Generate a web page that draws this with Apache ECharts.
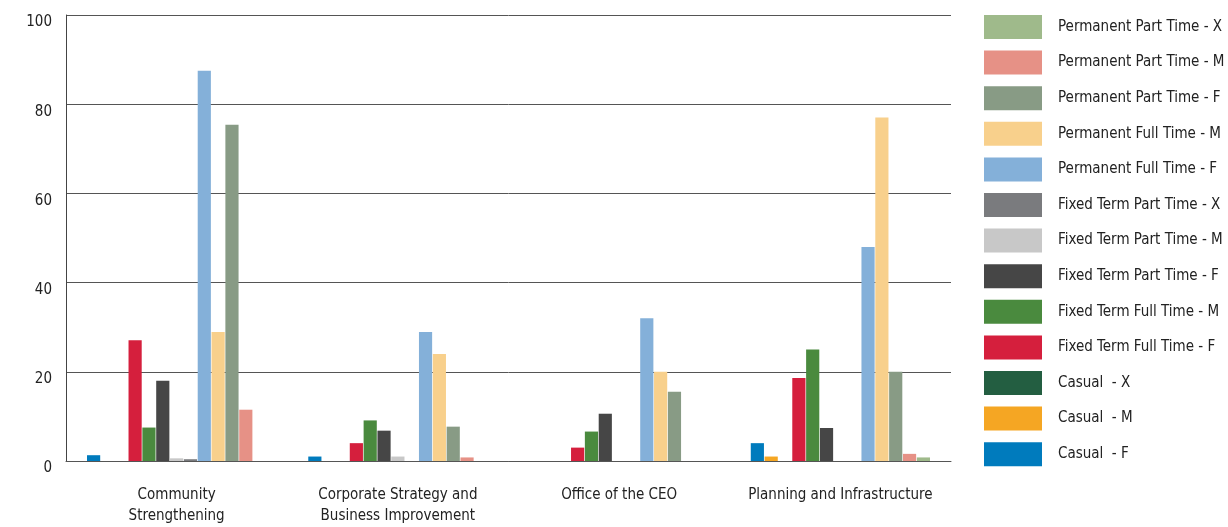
<!DOCTYPE html>
<html>
<head>
<meta charset="utf-8">
<script src="https://cdn.jsdelivr.net/npm/echarts@6/dist/echarts.min.js"></script>
<style>
html,body{margin:0;padding:0;background:#fff;}
#chart{width:1228px;height:527px;}
</style>
</head>
<body>
<div id="chart"></div>
<script>
const categories = ['Community\nStrengthening', 'Corporate Strategy and\nBusiness Improvement', 'Office of the CEO', 'Planning and Infrastructure'];
const seriesNames = [
  'Casual  - F', 'Casual  - M', 'Casual  - X',
  'Fixed Term Full Time - F', 'Fixed Term Full Time - M',
  'Fixed Term Part Time - F', 'Fixed Term Part Time - M', 'Fixed Term Part Time - X',
  'Permanent Full Time - F', 'Permanent Full Time - M',
  'Permanent Part Time - F', 'Permanent Part Time - M', 'Permanent Part Time - X'
];
const casualF = [1.3, 1.0, 0, 4.0];
const casualM = [0, 0, 0, 1.0];
const casualX = [0, 0, 0, 0];
const fixedFullF = [27.1, 4.0, 3.0, 18.6];
const fixedFullM = [7.5, 9.1, 6.6, 25.0];
const fixedPartF = [18.0, 6.8, 10.6, 7.4];
const fixedPartM = [0.6, 1.0, 0, 0];
const fixedPartX = [0.4, 0, 0, 0];
const permFullF = [87.5, 28.9, 32.0, 48.0];
const permFullM = [28.9, 24.0, 20.0, 77.0];
const permPartF = [75.4, 7.7, 15.5, 20.0];
const permPartM = [11.5, 0.8, 0, 1.6];
const permPartX = [0, 0, 0, 0.8];
const yTicks = [0, 20, 40, 60, 80, 100];

const seriesData = [casualF, casualM, casualX, fixedFullF, fixedFullM, fixedPartF, fixedPartM, fixedPartX, permFullF, permFullM, permPartF, permPartM, permPartX];
const colors = ['#007bbd', '#f5a623', '#235e41', '#d51f3d', '#4a8a3e', '#464646', '#c8c8c8', '#7a7b7e', '#84b0d9', '#f8d08c', '#889b85', '#e69186', '#9fba8b'];

const FONT = '"Liberation Sans Narrow", "DejaVu Sans Condensed", "Liberation Sans", sans-serif';

const chart = echarts.init(document.getElementById('chart'), null, {renderer: 'canvas'});
chart.setOption({
  animation: false,
  color: colors,
  textStyle: {fontFamily: FONT},
  grid: {left: 66, right: 277, top: 15, bottom: 63, containLabel: false},
  legend: {
    orient: 'vertical',
    left: 984,
    top: 15,
    padding: 0,
    itemWidth: 58,
    itemHeight: 24,
    itemGap: 11.6,
    icon: 'rect',
    data: seriesNames.slice().reverse(),
    textStyle: {fontFamily: FONT, fontSize: 15, color: '#222', padding: [0, 0, 0, 11]}
  },
  xAxis: {
    type: 'category',
    data: categories,
    axisLine: {show: true, lineStyle: {color: '#555', width: 1}},
    axisTick: {show: false},
    axisLabel: {fontFamily: FONT, fontSize: 15, color: '#222', margin: 24, lineHeight: 21, verticalAlign: 'top', interval: 0}
  },
  yAxis: {
    type: 'value',
    min: yTicks[0],
    max: yTicks[yTicks.length - 1],
    interval: 20,
    axisLine: {show: true, lineStyle: {color: '#444', width: 1}},
    axisTick: {show: false},
    splitLine: {show: true, lineStyle: {color: '#555', width: 1}},
    axisLabel: {fontFamily: FONT, fontSize: 15, color: '#222', margin: 14, verticalAlign: 'top'}
  },
  series: seriesNames.map((name, i) => ({
    name: name,
    type: 'bar',
    data: seriesData[i],
    barGap: '5%',
    barCategoryGap: '19%',
    itemStyle: {color: colors[i]}
  }))
});
</script>
</body>
</html>
